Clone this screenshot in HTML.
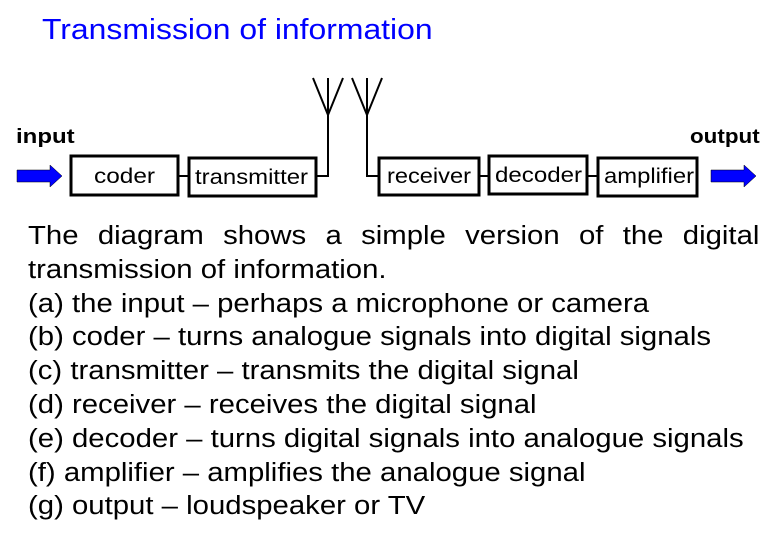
<!DOCTYPE html>
<html><head><style>
body{margin:0;width:783px;height:544px;background:#fff;font-family:"Liberation Sans",sans-serif;position:relative;overflow:hidden}
.t{position:absolute;white-space:nowrap;transform-origin:0 0}
#body{position:absolute;left:28px;top:220px;width:636px;font-size:25.5px;line-height:33.8px;color:#000;transform:scaleX(1.15);transform-origin:0 0;white-space:nowrap}
#body p{margin:0}
</style></head><body>
<div class="t" style="left:42px;top:14px;font-size:29px;color:#0000ff;transform:scaleX(1.1)">Transmission of information</div>
<div class="t" style="left:16px;top:126px;font-size:20px;font-weight:bold;transform:scaleX(1.2)">input</div>
<div class="t" style="left:690px;top:126px;font-size:20px;font-weight:bold;transform:scaleX(1.12)">output</div>
<svg width="783" height="544" style="position:absolute;left:0;top:0" >
<g fill="none" stroke="#000" stroke-width="3">
<rect x="71" y="156" width="107" height="39"/>
<rect x="189" y="158" width="127" height="38"/>
<rect x="379" y="158" width="100" height="37"/>
<rect x="489" y="156" width="98" height="38"/>
<rect x="598" y="158" width="99" height="38"/>
</g>
<g fill="none" stroke="#000" stroke-width="2">
<line x1="178" y1="176" x2="189" y2="176"/>
<line x1="479" y1="176" x2="489" y2="176"/>
<line x1="587" y1="176" x2="598" y2="176"/>
<polyline points="316,176 328,176 328,115"/>
<polyline points="313,78 328,115 343,78"/>
<line x1="328" y1="78" x2="328" y2="115"/>
<polyline points="378,176 367,176 367,115"/>
<polyline points="352,78 367,115 382,78"/>
<line x1="367" y1="78" x2="367" y2="115"/>
</g>
<polygon points="17,170 50,170 50,165 62,176 50,187 50,182 17,182" fill="#0000ff" stroke="#000" stroke-width="0.5"/>
<polygon points="711,170 744,170 744,165 756,176 744,187 744,182 711,182" fill="#0000ff" stroke="#000" stroke-width="0.5"/>
<g font-family="Liberation Sans, sans-serif" font-size="21">
<text x="94" y="183" textLength="61" lengthAdjust="spacingAndGlyphs">coder</text>
<text x="195" y="184" textLength="113" lengthAdjust="spacingAndGlyphs">transmitter</text>
<text x="387" y="183" textLength="84" lengthAdjust="spacingAndGlyphs">receiver</text>
<text x="495" y="182" textLength="87" lengthAdjust="spacingAndGlyphs">decoder</text>
<text x="604" y="183" textLength="90" lengthAdjust="spacingAndGlyphs">amplifier</text>
</g>
</svg>
<div id="body">
<p style="text-align:justify;text-align-last:justify">The diagram shows a simple version of the digital</p>
<p>transmission of information.</p>
<p>(a) the input – perhaps a microphone or camera</p>
<p>(b) coder – turns analogue signals into digital signals</p>
<p>(c) transmitter – transmits the digital signal</p>
<p>(d) receiver – receives the digital signal</p>
<p>(e) decoder – turns digital signals into analogue signals</p>
<p>(f) amplifier – amplifies the analogue signal</p>
<p>(g) output – loudspeaker or TV</p>
</div>
</body></html>
